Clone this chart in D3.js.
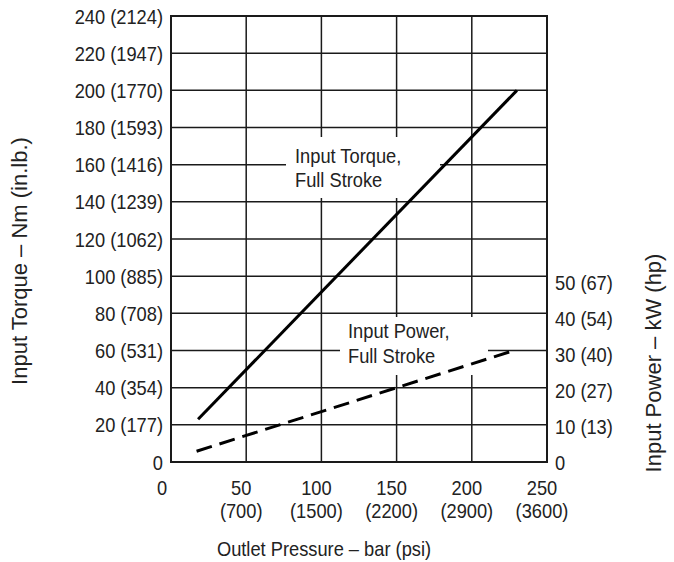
<!DOCTYPE html>
<html>
<head>
<meta charset="utf-8">
<script src="https://cdn.jsdelivr.net/npm/d3@7"></script>
<style>
  html, body { margin: 0; padding: 0; background: #fff; }
  svg { display: block; }
  text { font-family: "Liberation Sans", Arial, sans-serif; fill: #222; }
</style>
</head>
<body>
<svg id="chart" width="674" height="562"></svg>
<script>
// ---- data ----
const pressureTicks = [0, 50, 100, 150, 200, 250];
const pressurePsi = ["", "(700)", "(1500)", "(2200)", "(2900)", "(3600)"];
const torqueTicks = [0, 20, 40, 60, 80, 100, 120, 140, 160, 180, 200, 220, 240];
const torqueInLb = ["", "177", "354", "531", "708", "885", "1062", "1239", "1416", "1593", "1770", "1947", "2124"];
const powerTicks = [0, 10, 20, 30, 40, 50];
const powerHp = ["", "13", "27", "40", "54", "67"];
const torquePressure = [18, 230];
const torqueValues = [23, 200];
const powerPressure = [17, 228];
const powerValues = [3, 31];

// ---- layout ----
const svg = d3.select("#chart");
const x = d3.scaleLinear().domain([0, 250]).range([171, 547]);
const y = d3.scaleLinear().domain([0, 240]).range([462, 16]);
const yP = d3.scaleLinear().domain([0, 124]).range([462, 16]);
const ink = "#1a1a1a";
const fs = 21;
const SX = 0.87; // condensed look

// grid
const g = svg.append("g");
g.selectAll("line.v").data(pressureTicks.filter(d => d > 0 && d < 250)).enter()
  .append("line").attr("x1", d => x(d)).attr("x2", d => x(d))
  .attr("y1", y(0)).attr("y2", y(240)).attr("stroke", ink).attr("stroke-width", 1.5);
g.selectAll("line.h").data(torqueTicks.filter(d => d > 0 && d < 240)).enter()
  .append("line").attr("x1", x(0)).attr("x2", x(250))
  .attr("y1", d => y(d)).attr("y2", d => y(d)).attr("stroke", ink).attr("stroke-width", 1.5);

// white boxes behind annotations
svg.append("rect").attr("x", 286).attr("y", 137).attr("width", 154).attr("height", 61).attr("fill", "#fff");
svg.append("rect").attr("x", 340).attr("y", 317).attr("width", 148).attr("height", 58).attr("fill", "#fff");

// frame
svg.append("rect").attr("x", x(0)).attr("y", y(240)).attr("width", x(250) - x(0)).attr("height", y(0) - y(240))
  .attr("fill", "none").attr("stroke", ink).attr("stroke-width", 2);

// lines
const torqueData = torquePressure.map((p, i) => [p, torqueValues[i]]);
const powerData = powerPressure.map((p, i) => [p, powerValues[i]]);
svg.append("path").datum(torqueData)
  .attr("d", d3.line().x(d => x(d[0])).y(d => y(d[1])))
  .attr("fill", "none").attr("stroke", "#000").attr("stroke-width", 3);
svg.append("path").datum(powerData)
  .attr("d", d3.line().x(d => x(d[0])).y(d => yP(d[1])))
  .attr("fill", "none").attr("stroke", "#000").attr("stroke-width", 3)
  .attr("stroke-dasharray", "16,8");

const tf = (px, py, rot, sx) => `translate(${px},${py})${rot ? " rotate(" + rot + ")" : ""} scale(${sx || SX},1)`;

// left tick labels
svg.selectAll("text.yl").data(torqueTicks).enter().append("text")
  .attr("transform", d => tf(163, y(d))).attr("dy", "0.36em")
  .attr("text-anchor", "end").attr("font-size", fs)
  .text((d, i) => torqueInLb[i] ? `${d} (${torqueInLb[i]})` : `${d}`);

// right tick labels
svg.selectAll("text.yr").data(powerTicks).enter().append("text")
  .attr("transform", d => tf(555, yP(d))).attr("dy", "0.36em")
  .attr("text-anchor", "start").attr("font-size", fs)
  .text((d, i) => powerHp[i] ? `${d} (${powerHp[i]})` : `${d}`);

// x tick labels
const xg = svg.selectAll("g.xl").data(pressureTicks).enter().append("g")
  .attr("transform", d => tf(d === 0 ? x(d) - 9 : x(d) - 5, 0));
xg.append("text").attr("text-anchor", "middle").attr("font-size", fs).attr("y", 495).text(d => d);
xg.append("text").attr("text-anchor", "middle").attr("font-size", fs).attr("y", 518).text((d, i) => pressurePsi[i]);

// axis titles
svg.append("text").attr("transform", tf(324, 556)).attr("text-anchor", "middle").attr("font-size", fs)
  .text("Outlet Pressure – bar (psi)");
svg.append("text").attr("transform", tf(27, 261, -90, 1)).attr("text-anchor", "middle").attr("font-size", 22)
  .text("Input Torque – Nm (in.lb.)");
svg.append("text").attr("transform", tf(661, 363, -90, 1)).attr("text-anchor", "middle").attr("font-size", 22)
  .text("Input Power – kW (hp)");

// annotations
const a1 = svg.append("g").attr("transform", tf(295, 0));
a1.append("text").attr("font-size", fs).attr("y", 163).text("Input Torque,");
a1.append("text").attr("font-size", fs).attr("y", 187).text("Full Stroke");
const a2 = svg.append("g").attr("transform", tf(348, 0));
a2.append("text").attr("font-size", fs).attr("y", 338).text("Input Power,");
a2.append("text").attr("font-size", fs).attr("y", 363).text("Full Stroke");
</script>
</body>
</html>
